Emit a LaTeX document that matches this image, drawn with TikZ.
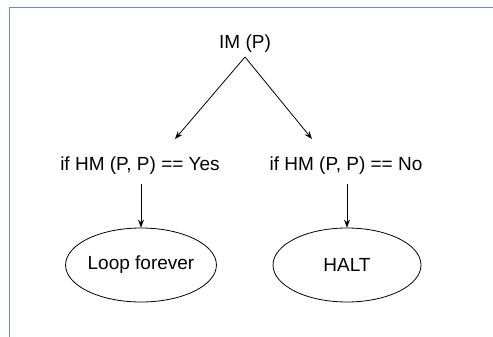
\documentclass[tikz,border=0pt]{standalone}
\usepackage{fontspec}
\setmainfont{Liberation Sans}
\usetikzlibrary{arrows.meta,shapes.geometric}
\definecolor{frameblue}{RGB}{95,140,215}
\begin{document}
\begin{tikzpicture}[x=1pt,y=-1pt,
  lbl/.style={inner sep=0pt,font=\fontsize{19}{21}\selectfont},
  oval/.style={draw,ellipse,minimum width=148pt,minimum height=74pt,inner sep=0pt,line width=0.8pt,font=\fontsize{19}{21}\selectfont},
  conn/.style={draw,line width=0.8pt,-{Stealth[length=8pt,width=6pt]}}]
\useasboundingbox (0,0) rectangle (493,337);
\draw[frameblue,line width=1.4pt] (9.5,337) -- (9.5,7.5) -- (493,7.5);
\node[lbl] (im) at (245,44) {IM (P)};
\coordinate (apex) at (245,57);
\node[lbl] (yes) at (140,166) {if HM (P, P) == Yes};
\node[lbl] (no) at (346,166) {if HM (P, P) == No};
\coordinate (yesin) at (175,139);
\coordinate (noin) at (312,139);
\node[oval] (loop) at (141,265) {Loop forever};
\node[oval] (halt) at (347,265) {HALT};
\draw[conn] (apex) -- (yesin);
\draw[conn] (apex) -- (noin);
\draw[conn,shorten <=9pt] (yes.south -| loop.north) -- (loop.north);
\draw[conn,shorten <=9pt] (no.south -| halt.north) -- (halt.north);
\end{tikzpicture}
\end{document}
